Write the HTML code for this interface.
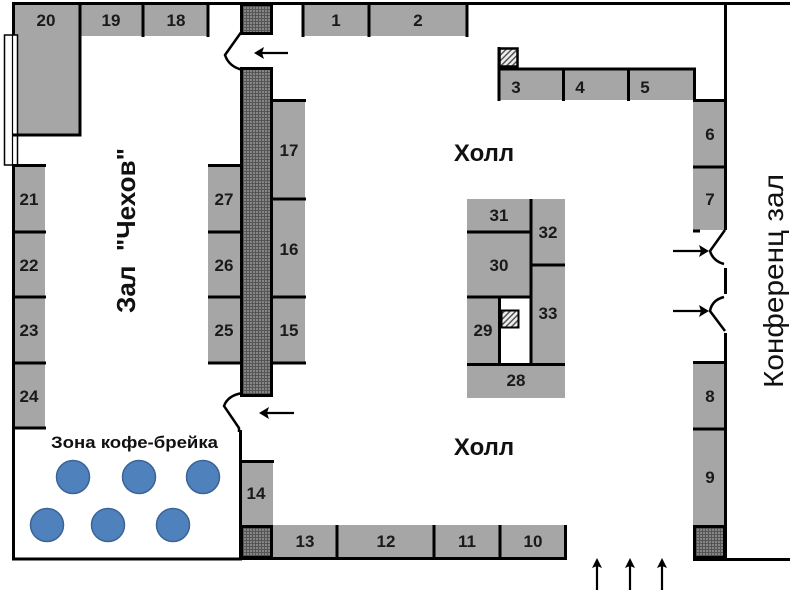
<!DOCTYPE html>
<html>
<head>
<meta charset="utf-8">
<style>
html,body{margin:0;padding:0;background:#fff;}
svg{display:block;}
text{font-family:"Liberation Sans","DejaVu Sans",sans-serif;}
.n{font-size:17px;font-weight:bold;fill:#1a1a1a;text-anchor:middle;}
</style>
</head>
<body>
<svg width="800" height="611" viewBox="0 0 800 611" xmlns="http://www.w3.org/2000/svg">
<defs>
  <pattern id="dk" width="3" height="3" patternUnits="userSpaceOnUse">
    <rect width="3" height="3" fill="#868686"/>
    <rect width="3" height="1" fill="#555"/>
    <rect width="1" height="3" fill="#555"/>
  </pattern>
  <pattern id="hat" width="4" height="4" patternUnits="userSpaceOnUse" patternTransform="rotate(45)">
    <rect width="4" height="4" fill="#eeeeee"/>
    <rect width="1.5" height="4" fill="#555"/>
  </pattern>
</defs>
<rect width="800" height="611" fill="#fff"/>

<!-- grey booths -->
<g fill="#a6a6a6">
  <rect x="15" y="5" width="65" height="130"/>
  <rect x="80" y="5" width="128" height="31"/>
  <rect x="303" y="5" width="164" height="31"/>
  <rect x="498" y="68" width="197" height="32"/>
  <rect x="693" y="100" width="32" height="130"/>
  <rect x="693" y="362" width="32" height="163"/>
  <rect x="273" y="525" width="293" height="33"/>
  <rect x="240" y="461" width="33" height="64"/>
  <rect x="15" y="165" width="30" height="263"/>
  <rect x="208" y="165" width="32" height="198"/>
  <rect x="273" y="100" width="32" height="263"/>
  <rect x="467" y="199" width="98" height="199"/>
</g>
<rect x="500" y="298" width="30" height="65" fill="#fff"/>

<!-- dark columns -->
<g fill="url(#dk)" stroke="#000" stroke-width="3">
  <rect x="241.5" y="4.5" width="30" height="29"/>
  <rect x="241.5" y="68.5" width="30" height="327"/>
  <rect x="241.5" y="526.5" width="30" height="31"/>
  <rect x="694.5" y="526.5" width="30" height="31"/>
</g>

<!-- hatched squares -->
<rect x="499.5" y="48.5" width="18" height="18" fill="url(#hat)" stroke="#000" stroke-width="2.5"/>
<rect x="501.5" y="310.5" width="17" height="17" fill="url(#hat)" stroke="#000" stroke-width="2"/>

<!-- window -->
<rect x="4.5" y="35" width="13" height="130" fill="#fff" stroke="#000" stroke-width="1.5"/>
<line x1="12.5" y1="35" x2="12.5" y2="165" stroke="#000" stroke-width="1.2"/>

<!-- walls and separators -->
<g stroke="#000" stroke-width="3" fill="none">
  <path d="M12,3.5 H790"/>
  <path d="M13.5,3 V35 M13.5,165 V560"/>
  <path d="M12,559 H242"/>
  <path d="M80,3 V136.5 M12,135 H81.5"/>
  <path d="M143,3 V37 M208,3 V37"/>
  <path d="M303,3 V37 M369,3 V37 M467,3 V37"/>
  <path d="M497.5,69 H696 M499,47 V101 M563.5,68 V101 M628.5,68 V101 M694.5,68 V101"/>
  <path d="M725.5,3 V230 M725.5,268 V294 M725.5,333 V560"/>
  <path d="M693,100.5 H726 M693,167 H726 M693,231 H700"/>
  <path d="M693,362.5 H726 M693,429 H726"/>
  <path d="M693,559.5 H790"/>
  <path d="M240,558.5 H567 M337,525 V558 M434,525 V558 M500,525 V558 M565.5,525 V560"/>
  <path d="M240,461.5 H274 M240.5,430 V560"/>
  <path d="M12,165.5 H46 M12,232 H46 M12,297 H46 M12,363 H46 M12,428 H46"/>
  <path d="M208,165.5 H241 M208,232 H241 M208,297 H241 M208,363 H241"/>
  <path d="M272,100.5 H306 M272,199 H306 M272,297 H306 M272,363 H306"/>
  <path d="M531,199 V365 M467,232 H531 M531,265 H565 M467,297 H531 M499.5,297 V365 M467,364.5 H565"/>
</g>

<!-- doors -->
<g stroke="#000" stroke-width="2.5" fill="none">
  <path d="M242,31 L225,55 Q229,67 243,70"/>
  <path d="M243,393 Q228,395 224,406 L239,428 L239,432"/>
  <path d="M725,230 L710,251 Q713,261 724,264"/>
  <path d="M724,297 Q712,300 710,311 L725,331"/>
</g>

<!-- arrows -->
<g stroke="#000" stroke-width="2.2" fill="none">
  <path d="M288,53 H258"/>
  <path d="M294,413 H263"/>
  <path d="M673,251 H705"/>
  <path d="M673,311 H705"/>
  <path d="M597,590 V563"/>
  <path d="M630,590 V563"/>
  <path d="M662,590 V563"/>
</g>
<g fill="#000">
  <path d="M254,53 L264,47 L262,53 L264,59 Z"/>
  <path d="M259,413 L269,407 L267,413 L269,419 Z"/>
  <path d="M709,251 L699,245 L701,251 L699,257 Z"/>
  <path d="M709,311 L699,305 L701,311 L699,317 Z"/>
  <path d="M597,558 L592,568 L597,566 L602,568 Z"/>
  <path d="M630,558 L625,568 L630,566 L635,568 Z"/>
  <path d="M662,558 L657,568 L662,566 L667,568 Z"/>
</g>

<!-- coffee tables -->
<g fill="#4f81bd" stroke="#3b6496" stroke-width="1.5">
  <circle cx="73" cy="477" r="16.5"/>
  <circle cx="139" cy="477" r="16.5"/>
  <circle cx="203" cy="477" r="16.5"/>
  <circle cx="47" cy="525" r="16.5"/>
  <circle cx="108" cy="525" r="16.5"/>
  <circle cx="173" cy="525" r="16.5"/>
</g>

<!-- booth numbers -->
<g class="n">
  <text x="46" y="26">20</text>
  <text x="111" y="26">19</text>
  <text x="176" y="26">18</text>
  <text x="336" y="26">1</text>
  <text x="418" y="26">2</text>
  <text x="516" y="93">3</text>
  <text x="580" y="93">4</text>
  <text x="645" y="93">5</text>
  <text x="710" y="140">6</text>
  <text x="710" y="205">7</text>
  <text x="710" y="402">8</text>
  <text x="710" y="483">9</text>
  <text x="533" y="547">10</text>
  <text x="467" y="547">11</text>
  <text x="386" y="547">12</text>
  <text x="305" y="547">13</text>
  <text x="256" y="499">14</text>
  <text x="289" y="156">17</text>
  <text x="289" y="255">16</text>
  <text x="289" y="336">15</text>
  <text x="224" y="205">27</text>
  <text x="224" y="271">26</text>
  <text x="224" y="336">25</text>
  <text x="29" y="205">21</text>
  <text x="29" y="271">22</text>
  <text x="29" y="336">23</text>
  <text x="29" y="402">24</text>
  <text x="499" y="221">31</text>
  <text x="548" y="238">32</text>
  <text x="499" y="271">30</text>
  <text x="548" y="319">33</text>
  <text x="483" y="336">29</text>
  <text x="516" y="386">28</text>
</g>

<!-- area labels -->
<text x="484" y="161" font-size="24" font-weight="bold" fill="#111" text-anchor="middle">Холл</text>
<text x="484" y="455" font-size="24" font-weight="bold" fill="#111" text-anchor="middle">Холл</text>
<text x="51" y="448" font-size="17" font-weight="bold" fill="#111" textLength="167" lengthAdjust="spacingAndGlyphs">Зона кофе-брейка</text>
<text transform="translate(135,313) rotate(-90)" font-size="26" font-weight="bold" fill="#111" textLength="165" lengthAdjust="spacingAndGlyphs" xml:space="preserve">Зал  "Чехов"</text>
<text transform="translate(783,388) rotate(-90)" font-size="28" fill="#111" textLength="214" lengthAdjust="spacingAndGlyphs">Конференц зал</text>
</svg>
</body>
</html>
